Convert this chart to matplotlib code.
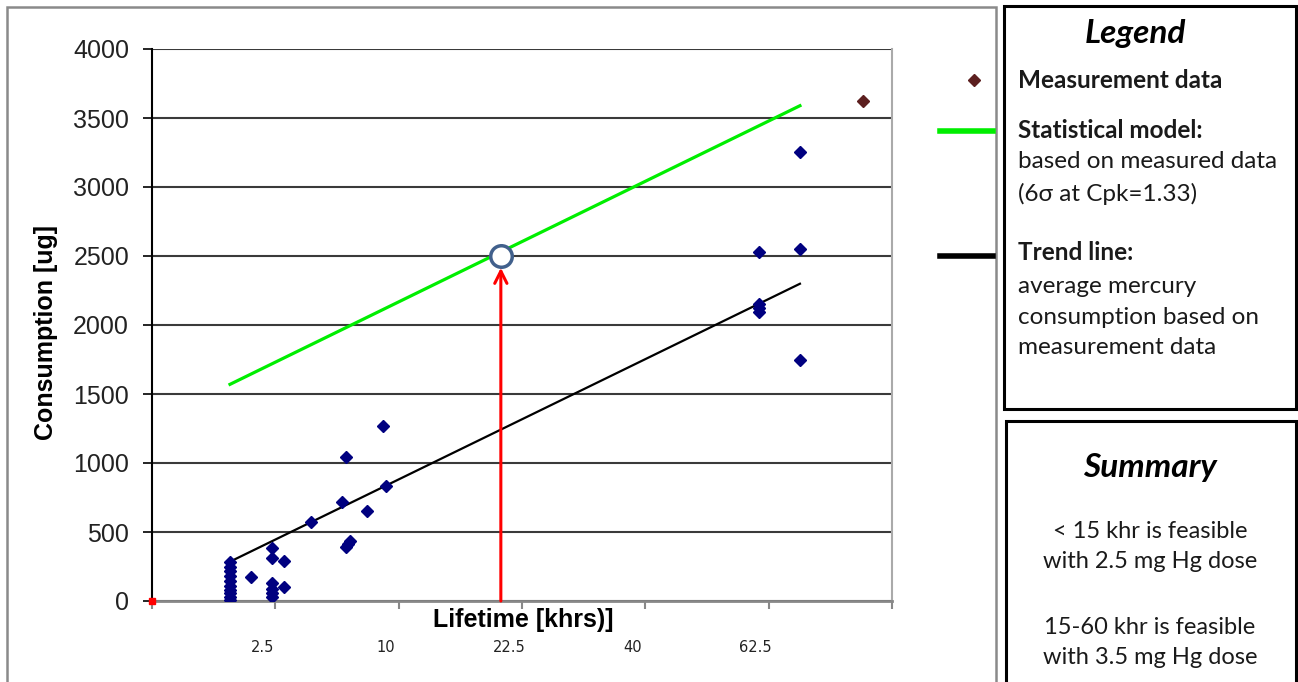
import numpy as np
import matplotlib
matplotlib.use("Agg")
import matplotlib.pyplot as plt
from matplotlib.patches import Rectangle
from matplotlib.lines import Line2D
from matplotlib.transforms import ScaledTranslation

W, H = 1298, 682

# measurement data: lifetime [khrs] vs consumption [ug]
meas_life = [1.0, 1.0, 1.0, 1.0, 1.0, 1.0, 1.0, 1.0, 1.0, 1.0,
             1.6,
             2.35, 2.35, 2.35, 2.35, 2.35, 2.35,
             2.86, 2.86,
             4.16, 5.91, 6.17, 6.17, 6.3, 6.44, 7.58, 8.79, 8.98,
             60.6, 60.6, 60.6, 60.6,
             69.0, 69.0, 69.0]
meas_cons = [285, 250, 215, 180, 145, 110, 80, 55, 30, 8,
             176,
             382, 309, 128, 90, 60, 30,
             290, 100,
             575, 715, 1041, 389, 410, 437, 652, 1268, 836,
             2530, 2150, 2120, 2093,
             2552, 3250, 1745]

# outlier shown in a separate colour
extra_life = [83.0]
extra_cons = [3625]

# statistical model (6 sigma) and trend line, end points
model_life = [1.0, 69.0]
model_cons = [1570, 3589]
trend_life = [1.0, 69.0]
trend_cons = [285, 2299]

# target point and arrow
target_life = 20.0
target_cons = 2500
arrow_top = 2415

xtick_vals = [0, 2.5, 10, 22.5, 40, 62.5, 90]
xtick_text = ["", "2.5", "10", "22.5", "40", "62.5", ""]
ytick_vals = list(range(0, 4001, 500))


def fx(x, y):
    return x / W, 1 - y / H


def fwd(x):
    return np.sqrt(np.maximum(x, 0))


def inv(x):
    return np.square(x)


fig = plt.figure(figsize=(W / 100, H / 100), dpi=100)
ax = fig.add_axes([152 / W, 1 - 601 / H, 740 / W, 552 / H])

ax.set_xscale("function", functions=(fwd, inv))
ax.set_xlim(0, 90)
ax.set_ylim(0, 4000)

ax.yaxis.grid(True, color="#3a3a3a", linewidth=1.5, zorder=0)
ax.set_axisbelow(True)

ax.plot(model_life, model_cons, color="#00ee00", linewidth=2.3, zorder=2)
ax.plot(trend_life, trend_cons, color="black", linewidth=1.6, zorder=2)
ax.plot(meas_life, meas_cons, "D", color="#000080", markersize=6.3, zorder=3)
ax.plot(extra_life, extra_cons, "D", color="#5c1f1f", markersize=6.3, zorder=3)
ax.plot([0], [0], "s", color="red", markersize=4, clip_on=False, zorder=4)

ax.annotate("", xy=(target_life, arrow_top), xytext=(target_life, 0),
            arrowprops=dict(arrowstyle="->", color="red", lw=2.2,
                            mutation_scale=22, shrinkA=0, shrinkB=0),
            zorder=4)
ax.plot([target_life], [target_cons], "o", markersize=15.5, mfc="white",
        mec="#41608c", mew=2.5, zorder=5)

# axes styling
ax.spines["top"].set_visible(False)
ax.spines["right"].set_color("#aaaaaa")
ax.spines["right"].set_linewidth(1.5)
ax.spines["left"].set_color("black")
ax.spines["left"].set_linewidth(1.5)
ax.spines["bottom"].set_color("#888888")
ax.spines["bottom"].set_linewidth(2)

ax.set_yticks(ytick_vals)
ax.set_yticklabels([str(v) for v in ytick_vals], fontsize=18,
                   family="Liberation Sans", color="#222222")
ax.tick_params(axis="y", length=6.5, width=1.2, color="black", pad=10)

ax.set_xticks(xtick_vals)
ax.set_xticklabels(xtick_text, fontsize=10.5, family="DejaVu Sans",
                   color="#222222")
ax.xaxis.set_minor_locator(matplotlib.ticker.NullLocator())
ax.tick_params(axis="x", length=6, width=1.5, color="#888888", pad=22)
shift = ScaledTranslation(-13 / 100, 0, fig.dpi_scale_trans)
for lab in ax.get_xticklabels():
    lab.set_transform(lab.get_transform() + shift)

ax.set_xlabel("Lifetime [khrs)]", fontsize=18, fontweight="bold",
              family="Liberation Sans")
ax.xaxis.label.set_va("center")
ax.xaxis.set_label_coords((523 - 152) / 740, (601 - 620) / 552)
ax.set_ylabel("Consumption [ug]", fontsize=18, fontweight="bold",
              family="Liberation Sans")
ax.yaxis.label.set_va("center")
ax.yaxis.set_label_coords((46 - 152) / 740, (601 - 332) / 552)

# chart frame and side boxes
def add_box(x0, y0, x1, y1, color, lw):
    fig.add_artist(Rectangle(fx(x0, y1), (x1 - x0) / W, (y1 - y0) / H,
                             transform=fig.transFigure, fill=False,
                             edgecolor=color, linewidth=lw, clip_on=False))


add_box(7, 7, 996, 700, "#8a8a8a", 1.8)
add_box(1004, 6, 1296, 409, "black", 2.2)
add_box(1006, 421, 1296, 700, "black", 2.2)

# legend symbols next to the box
lx, ly = fx(974, 80)
fig.add_artist(Line2D([lx], [ly], marker="D", color="#5c1f1f", markersize=6.3,
                      linestyle="none", transform=fig.transFigure))
for yy, col in [(131, "#00ee00"), (256, "black")]:
    x0, y0 = fx(940, yy)
    x1, _ = fx(993, yy)
    fig.add_artist(Line2D([x0, x1], [y0, y0], color=col, linewidth=4,
                          transform=fig.transFigure))

box_font = "Lato"
fig.text(*fx(1135, 34), "Legend", fontsize=24, fontweight="bold",
         style="italic", family=box_font, ha="center", va="center")
legend_lines = [
    (80, "Measurement data", "bold"),
    (131, "Statistical model:", "bold"),
    (162, "based on measured data", "normal"),
    (194, "(6σ at Cpk=1.33)", "normal"),
    (253, "Trend line:", "bold"),
    (286, "average mercury", "normal"),
    (317, "consumption based on", "normal"),
    (348, "measurement data", "normal"),
]
for yy, txt, wt in legend_lines:
    fig.text(*fx(1018, yy), txt, fontsize=17.5, fontweight=wt,
             family=[box_font, "DejaVu Sans"], ha="left", va="center",
             color="#1a1a1a")

fig.text(*fx(1150, 468), "Summary", fontsize=24, fontweight="bold",
         style="italic", family=box_font, ha="center", va="center")
summary_lines = [
    (531, "< 15 khr is feasible"),
    (562, "with 2.5 mg Hg dose"),
    (627, "15-60 khr is feasible"),
    (658, "with 3.5 mg Hg dose"),
]
for yy, txt in summary_lines:
    fig.text(*fx(1150, yy), txt, fontsize=17, family=box_font,
             ha="center", va="center", color="#1a1a1a")

fig.savefig("out.png", dpi=100)
